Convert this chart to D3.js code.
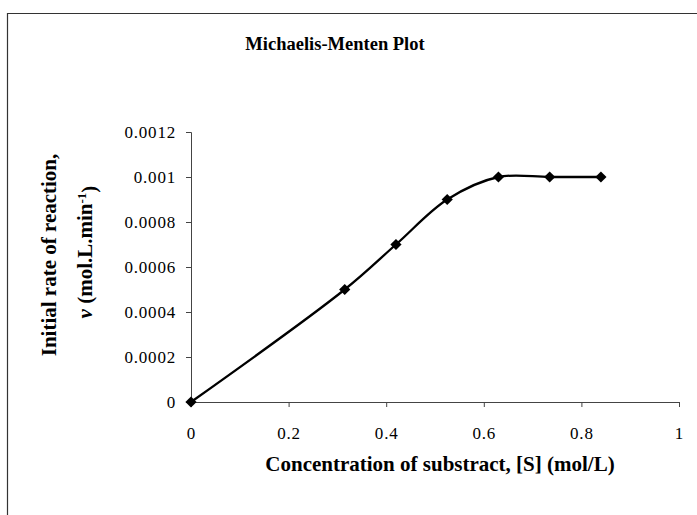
<!DOCTYPE html>
<html><head><meta charset="utf-8">
<script src="https://cdn.jsdelivr.net/npm/d3@7"></script>
<style>body{margin:0;background:#fff}svg{display:block}text{font-family:"Liberation Serif","Times New Roman",serif;fill:#000}</style>
</head><body><svg id="c" width="697" height="515"></svg>
<script>
const concentration = [0, 0.315, 0.42, 0.525, 0.63, 0.735, 0.84];
const rate = [0, 0.0005, 0.0007, 0.0009, 0.001, 0.001, 0.001];
const xTicks = [0, 0.2, 0.4, 0.6, 0.8, 1];
const yTicks = [0, 0.0002, 0.0004, 0.0006, 0.0008, 0.001, 0.0012];
const yTickLabels = ["0", "0.0002", "0.0004", "0.0006", "0.0008", "0.001", "0.0012"];

const svg = d3.select("#c");
svg.append("path").attr("d","M7.5,520 L7.5,13.5 L700,13.5").attr("fill","none").attr("stroke","#333").attr("stroke-width",1.2);

const x = d3.scaleLinear().domain([0,1]).range([191,679]);
const y = d3.scaleLinear().domain([0,0.0012]).range([402,132]);

svg.append("text").attr("x",335).attr("y",50).attr("text-anchor","middle")
  .attr("font-size",18.5).attr("font-weight","bold").text("Michaelis-Menten Plot");

const xa = svg.append("g").attr("transform","translate(0,402)")
  .call(d3.axisBottom(x).tickValues(xTicks).tickSize(5).tickFormat(d=>String(d)));
const ya = svg.append("g").attr("transform","translate(191,0)")
  .call(d3.axisLeft(y).tickValues(yTicks).tickSize(5).tickFormat((d,i)=>yTickLabels[i]));
[xa,ya].forEach(g=>{
  g.attr("font-size",null).attr("font-family",null);
  g.select(".domain").attr("stroke","#444").attr("stroke-width",1);
  g.selectAll(".tick line").attr("stroke","#444");
  g.selectAll("text").style("font-family","Liberation Serif, serif").style("font-size","17px").attr("fill","#000").style("letter-spacing","0.8px");
});
xa.selectAll("text").attr("dy",null).attr("y",37);
ya.selectAll("text").attr("x",-15);

const pts = concentration.map((c,i)=>[x(c),y(rate[i])]);
svg.append("path").attr("d",d3.line().curve(d3.curveCatmullRom.alpha(0.5))(pts))
  .attr("fill","none").attr("stroke","#000").attr("stroke-width",2.3);
svg.selectAll(".m").data(pts).enter().append("path")
  .attr("transform",d=>`translate(${d[0]},${d[1]})`)
  .attr("d",d3.symbol().type(d3.symbolDiamond2).size(80)).attr("fill","#000");

svg.append("text").attr("x",440).attr("y",471).attr("text-anchor","middle")
  .attr("font-size",21).attr("font-weight","bold").text("Concentration of substract, [S] (mol/L)");

svg.append("text").attr("transform","translate(56,255) rotate(-90)").attr("text-anchor","middle")
  .attr("font-size",21).attr("font-weight","bold").text("Initial rate of reaction,");
const t2 = svg.append("text").attr("transform","translate(92,252) rotate(-90)").attr("text-anchor","middle")
  .attr("font-size",21).attr("font-weight","bold");
t2.append("tspan").attr("font-style","italic").text("v");
t2.append("tspan").text(" (mol.L.min");
t2.append("tspan").attr("dy","-0.45em").attr("font-size",13).text("-1");
t2.append("tspan").attr("dy","0.45em").text(")");
</script></body></html>
